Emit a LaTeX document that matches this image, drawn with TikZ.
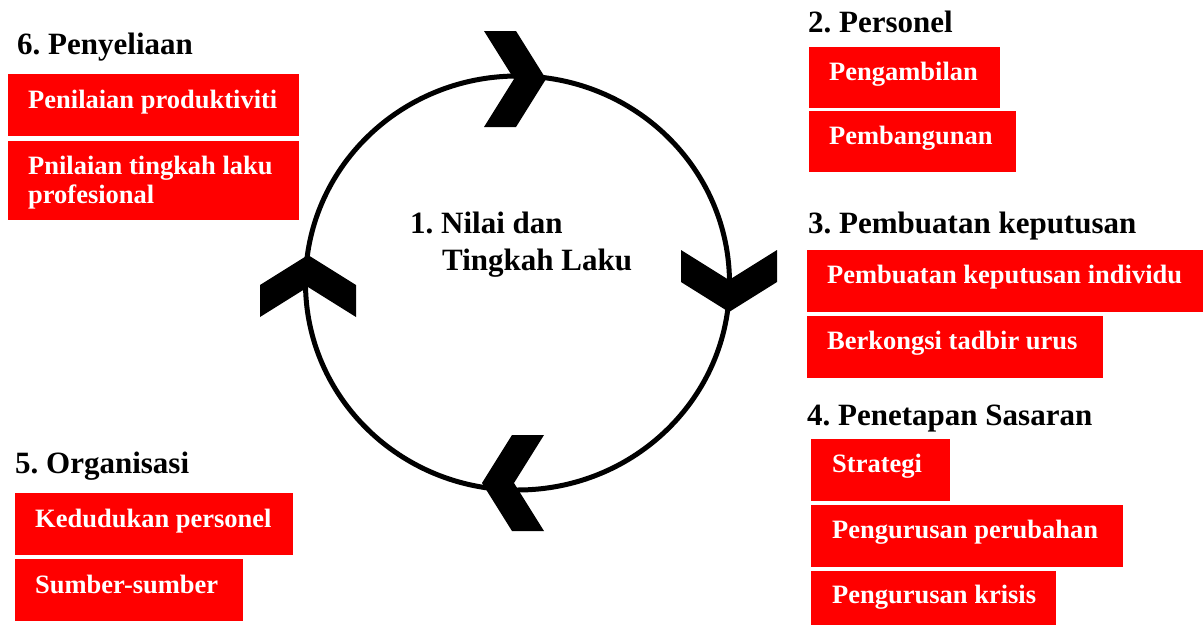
\documentclass[tikz,border=0pt]{standalone}
\usepackage{fontspec}
\setmainfont{Liberation Serif}
\definecolor{boxred}{HTML}{FF0000}
\frenchspacing
\begin{document}
\begin{tikzpicture}[x=1pt,y=-1pt,
  redbox/.style={fill=boxred, draw=none, inner sep=0pt, anchor=north west},
  boxtxt/.style={text=white, inner sep=0pt, anchor=base west, font=\bfseries\fontsize{26.5}{29}\selectfont},
  ttl/.style={text=black, inner sep=0pt, anchor=base west, font=\bfseries\fontsize{31}{36}\selectfont},
  chev/.style={fill=black, draw=none}]
\useasboundingbox (0,0) rectangle (1203,625);
% circle
\draw[line width=5pt] (517.5,283) ellipse [x radius=212, y radius=207];
% chevrons
\foreach \px/\py/\r in {546/79/0, 729/312/-90, 482/483/180, 308/255/90}{
  \begin{scope}[shift={(\px,\py)}, rotate=\r]
    \fill[chev] (0,0) -- (-30,-48) -- (-62,-48) -- (-32,0) -- (-62,48) -- (-30,48) -- cycle;
  \end{scope}
}
% centre text
\node[ttl] (c1) at (410,233) {1. Nilai dan};
\node[ttl] (c2) at (442,270) {Tingkah Laku};
% 6
\node[ttl] (h6) at (17,54) {6. Penyeliaan};
\node[redbox, minimum width=291, minimum height=62] (b61) at (8,74) {};
\node[boxtxt] (t61) at (28,108) {Penilaian produktiviti};
\node[redbox, minimum width=291, minimum height=79] (b62) at (8,141) {};
\node[boxtxt] (t62) at (28,174) {Pnilaian tingkah laku};
\node[boxtxt] (t63) at (28,203) {profesional};
% 2
\node[ttl] (h2) at (808,32) {2. Personel};
\node[redbox, minimum width=191, minimum height=61] (b21) at (809,47) {};
\node[boxtxt] (t21) at (829,80) {Pengambilan};
\node[redbox, minimum width=207, minimum height=61] (b22) at (809,111) {};
\node[boxtxt] (t22) at (829,144) {Pembangunan};
% 3
\node[ttl] (h3) at (808,233) {3. Pembuatan keputusan};
\node[redbox, minimum width=396, minimum height=62] (b31) at (807,250) {};
\node[boxtxt] (t31) at (827,283) {Pembuatan keputusan individu};
\node[redbox, minimum width=296, minimum height=62] (b32) at (807,316) {};
\node[boxtxt] (t32) at (827,349) {Berkongsi tadbir urus};
% 4
\node[ttl] (h4) at (807,425) {4. Penetapan Sasaran};
\node[redbox, minimum width=139, minimum height=62] (b41) at (811,439) {};
\node[boxtxt] (t41) at (832,472) {Strategi};
\node[redbox, minimum width=312, minimum height=62] (b42) at (811,505) {};
\node[boxtxt] (t42) at (832,538) {Pengurusan perubahan};
\node[redbox, minimum width=245, minimum height=54] (b43) at (811,571) {};
\node[boxtxt] (t43) at (832,603) {Pengurusan krisis};
% 5
\node[ttl] (h5) at (15,473) {5. Organisasi};
\node[redbox, minimum width=278, minimum height=62] (b51) at (15,493) {};
\node[boxtxt] (t51) at (35,527) {Kedudukan personel};
\node[redbox, minimum width=228, minimum height=62] (b52) at (15,559) {};
\node[boxtxt] (t52) at (35,593) {Sumber-sumber};
\end{tikzpicture}
\end{document}
